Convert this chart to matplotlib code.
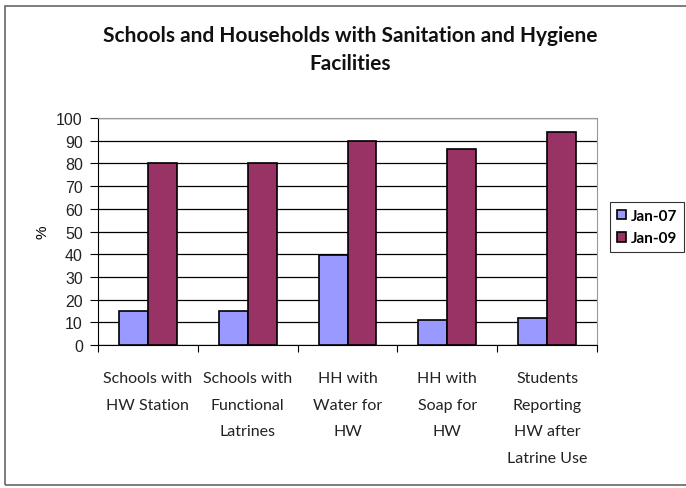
import matplotlib.pyplot as plt
import numpy as np
from matplotlib.patches import Rectangle

categories = ["Schools with\nHW Station", "Schools with\nFunctional\nLatrines",
              "HH with\nWater for\nHW", "HH with\nSoap for\nHW",
              "Students\nReporting\nHW after\nLatrine Use"]
jan07 = [15, 15, 39.5, 11, 12]
jan09 = [80, 80, 90, 86.5, 94]
series_names = ["Jan-07", "Jan-09"]
yticks = list(range(0, 101, 10))

fig = plt.figure(figsize=(6.86, 4.89), dpi=100)
ax = fig.add_axes([0.1429, 0.2924, 0.7274, 0.4642])

x = np.arange(len(categories))
w = 0.29
ax.bar(x - w / 2, jan07, w, color="#9999FF", edgecolor="black", linewidth=1.2,
       label=series_names[0], zorder=3)
ax.bar(x + w / 2, jan09, w, color="#993366", edgecolor="black", linewidth=1.2,
       label=series_names[1], zorder=3)

ax.set_xlim(-0.5, len(categories) - 0.5)
ax.set_ylim(0, 100)
ax.set_yticks(yticks)
ax.set_yticklabels([str(t) for t in yticks], fontfamily="Liberation Sans", fontsize=11.5,
                   color="#222222")
ax.yaxis.grid(True, color="black", linewidth=0.9, zorder=0)
ax.set_axisbelow(True)

# ticks at category boundaries, labels centered
ax.set_xticks(np.arange(-0.5, len(categories), 1.0))
ax.set_xticklabels([])
ax.tick_params(axis="x", direction="out", length=5, color="black")
ax.tick_params(axis="y", direction="out", length=6, color="black", pad=5)
for i, lab in enumerate(categories):
    ax.text(i, -11.5, lab, ha="center", va="top", fontsize=11.5, family="Lato",
            linespacing=2.15, color="#222222", transform=ax.transData, clip_on=False)

for s in ["top", "right"]:
    ax.spines[s].set_color("#999999")
ax.spines["left"].set_color("black")
ax.spines["bottom"].set_color("black")

ax.set_ylabel("%", fontsize=11, family="Liberation Sans", labelpad=5)

fig.text(0.511, 0.898, "Schools and Households with Sanitation and Hygiene\nFacilities",
         ha="center", va="center", fontsize=15, fontweight="bold", family="Lato",
         linespacing=1.5, color="#111111")

leg = ax.legend(loc="upper left", bbox_to_anchor=(0.889, 0.585), bbox_transform=fig.transFigure,
                frameon=True, fancybox=False, edgecolor="black", handlelength=0.6,
                handleheight=0.6, handletextpad=0.35, borderpad=0.45, labelspacing=0.55,
                borderaxespad=0, prop={"family": "Lato", "weight": "bold", "size": 11})
leg.get_frame().set_linewidth(0.8)

fig.patches.append(Rectangle((0.007, 0.006), 1.2, 0.98, transform=fig.transFigure,
                             fill=False, edgecolor="#666666", linewidth=1.2))

fig.savefig("out.png", dpi=100)
